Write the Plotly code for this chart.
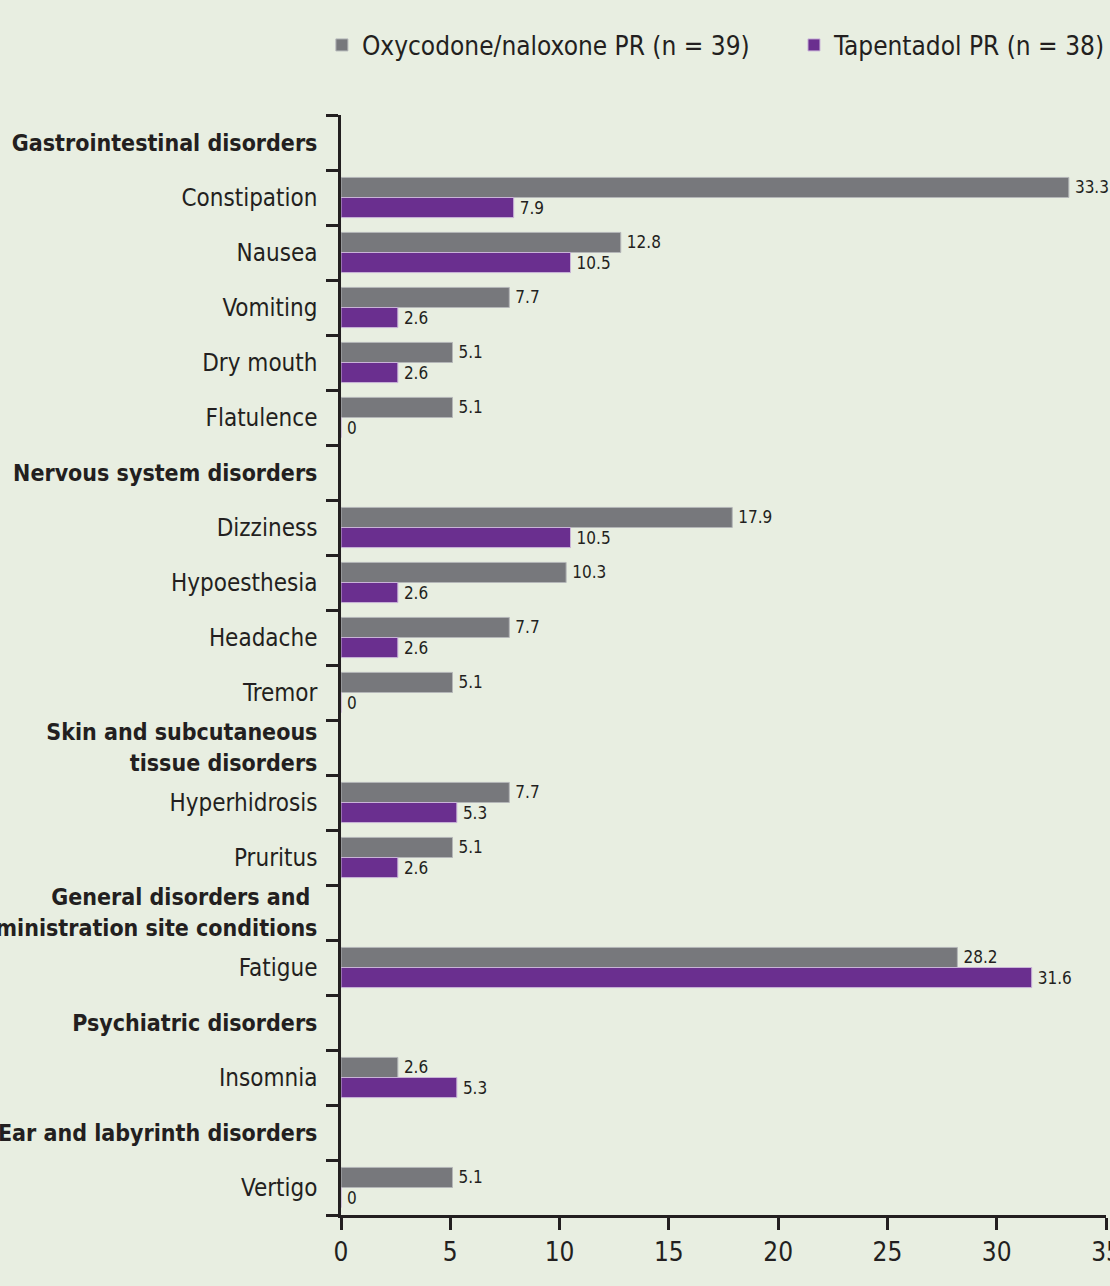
import plotly.graph_objects as go

HDR = "<span style='font-size:23px'><b>{}</b></span>"

categories = [
    "Gastrointestinal disorders|h", "Constipation", "Nausea", "Vomiting", "Dry mouth", "Flatulence",
    "Nervous system disorders|h", "Dizziness", "Hypoesthesia", "Headache", "Tremor",
    "Skin and subcutaneous<br>tissue disorders|h", "Hyperhidrosis", "Pruritus",
    "General disorders and <br>administration site conditions|h", "Fatigue",
    "Psychiatric disorders|h", "Insomnia",
    "Ear and labyrinth disorders|h", "Vertigo",
]
oxycodone = [None, 33.3, 12.8, 7.7, 5.1, 5.1,
             None, 17.9, 10.3, 7.7, 5.1,
             None, 7.7, 5.1,
             None, 28.2,
             None, 2.6,
             None, 5.1]
tapentadol = [None, 7.9, 10.5, 2.6, 2.6, 0,
              None, 10.5, 2.6, 2.6, 0,
              None, 5.3, 2.6,
              None, 31.6,
              None, 5.3,
              None, 0]
series_names = ["Oxycodone/naloxone PR (n = 39)", "Tapentadol PR (n = 38)"]
x_ticks = [0, 5, 10, 15, 20, 25, 30, 35]

FONT = "DejaVu Sans Condensed"
BG = "#e8eee1"
colors = ["#77787c", "#6a2f8f"]
edge = ["#b4b6b8", "#c9b3d8"]


def tick_text(c):
    if c.endswith("|h"):
        return "<br>".join(HDR.format(p) for p in c[:-2].split("<br>"))
    return c


tick_labels = [tick_text(c) for c in categories]


def lab(v):
    if v is None:
        return ""
    return "\u2009" + (f"{v:g}")


fig = go.Figure()
for name, vals, c, e, lg in zip(series_names, [oxycodone, tapentadol], colors, edge, ["legend", "legend2"]):
    fig.add_trace(go.Bar(
        y=categories, x=vals, name=name, orientation="h", legend=lg,
        marker=dict(color=c, line=dict(color=e, width=1)),
        text=[lab(v) for v in vals], textposition="outside",
        textfont=dict(family=FONT, size=17, color="#231f20"),
        constraintext="none", cliponaxis=False,
    ))

legend_common = dict(orientation="h", xref="container", xanchor="left",
                     y=0.965, yanchor="middle", yref="container",
                     font=dict(family=FONT, size=26, color="#231f20"),
                     bgcolor="rgba(0,0,0,0)", itemwidth=30)

fig.update_layout(
    width=1110, height=1286,
    paper_bgcolor=BG, plot_bgcolor=BG,
    margin=dict(l=341, r=4, t=115, b=71, autoexpand=False),
    barmode="group", bargap=0.27, bargroupgap=0,
    font=dict(family=FONT, size=24, color="#231f20"),
    showlegend=True,
    legend=dict(x=0.29, **legend_common),
    legend2=dict(x=0.7153, **legend_common),
    xaxis=dict(range=[0, 35], tickvals=x_ticks, showgrid=False, zeroline=False,
               showline=True, linecolor="#231f20", linewidth=2.5,
               ticks="outside", ticklen=12, tickwidth=2.5, tickcolor="#231f20",
               tickfont=dict(family=FONT, size=26, color="#231f20"),
               ticklabeloverflow="allow", automargin=False),
    yaxis=dict(type="category", autorange="reversed", showgrid=False, zeroline=False,
               showline=True, linecolor="#231f20", linewidth=2.5,
               ticks="outside", ticklen=12, tickwidth=2.5, tickcolor="#231f20",
               tickson="boundaries", ticklabelstandoff=16,
               tickmode="array", tickvals=categories, ticktext=tick_labels,
               tickfont=dict(family=FONT, size=24, color="#231f20"),
               automargin=False),
)
fig.write_html("out.html", config={"displayModeBar": False},
               post_script="document.body.style.margin='0';document.body.style.overflow='hidden';")
